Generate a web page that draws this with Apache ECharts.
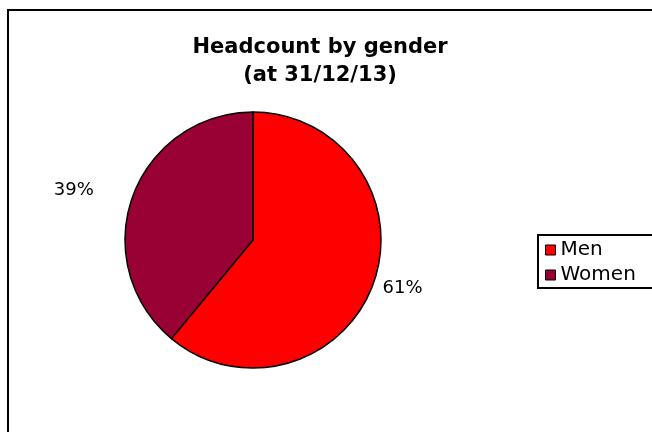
<!DOCTYPE html>
<html>
<head>
<meta charset="utf-8">
<script src="https://cdn.jsdelivr.net/npm/echarts@6/dist/echarts.min.js"></script>
<style>
  html, body { margin: 0; padding: 0; background: #fff; }
  #chart { width: 652px; height: 432px; }
</style>
</head>
<body>
<div id="chart"></div>
<script>
// Headcount split by gender
const categories = ['Men', 'Women'];
const shares = [61, 39];
const colors = ['#FF0000', '#990033'];
const titleLines = ['Headcount by gender', '(at 31/12/13)'];

// per-slice leader geometry (lines themselves are hidden)
const leaderLength = [14, 20];
const leaderLength2 = [0, 15];
const labelGap = [-4, 5];

const chart = echarts.init(document.getElementById('chart'), null, { renderer: 'canvas' });

const pieData = categories.map((name, i) => ({
  name: name,
  value: shares[i],
  itemStyle: { color: colors[i] },
  label: { distanceToLabelLine: labelGap[i] },
  labelLine: { show: false, length: leaderLength[i], length2: leaderLength2[i] }
}));

chart.setOption({
  animation: false,
  backgroundColor: '#ffffff',
  title: {
    text: titleLines.join('\n'),
    left: 315,
    top: 29,
    textAlign: 'center',
    textStyle: {
      fontFamily: 'DejaVu Sans',
      fontWeight: 'bold',
      fontSize: 21,
      lineHeight: 28,
      color: '#000'
    }
  },
  legend: {
    orient: 'vertical',
    left: 540,
    top: 235,
    itemWidth: 10,
    itemHeight: 10,
    itemGap: 5,
    icon: 'rect',
    data: categories,
    itemStyle: { borderColor: '#000', borderWidth: 1 },
    textStyle: {
      fontFamily: 'DejaVu Sans',
      fontSize: 20,
      color: '#000',
      padding: [0, 0, 0, 0]
    },
    selectedMode: false
  },
  graphic: [
    {
      type: 'rect',
      shape: { x: 8, y: 10, width: 720, height: 500 },
      style: { fill: 'none', stroke: '#000', lineWidth: 2 },
      silent: true
    },
    {
      type: 'rect',
      shape: { x: 538, y: 235, width: 140, height: 53 },
      style: { fill: 'none', stroke: '#000', lineWidth: 2 },
      silent: true
    }
  ],
  series: [{
    type: 'pie',
    center: [253, 240],
    radius: 128,
    startAngle: 90,
    clockwise: true,
    data: pieData,
    itemStyle: { borderColor: '#000', borderWidth: 1.5 },
    label: {
      show: true,
      position: 'outside',
      formatter: '{c}%',
      fontFamily: 'DejaVu Sans',
      fontSize: 18,
      color: '#000'
    },
    emphasis: { disabled: true }
  }]
});
</script>
</body>
</html>
